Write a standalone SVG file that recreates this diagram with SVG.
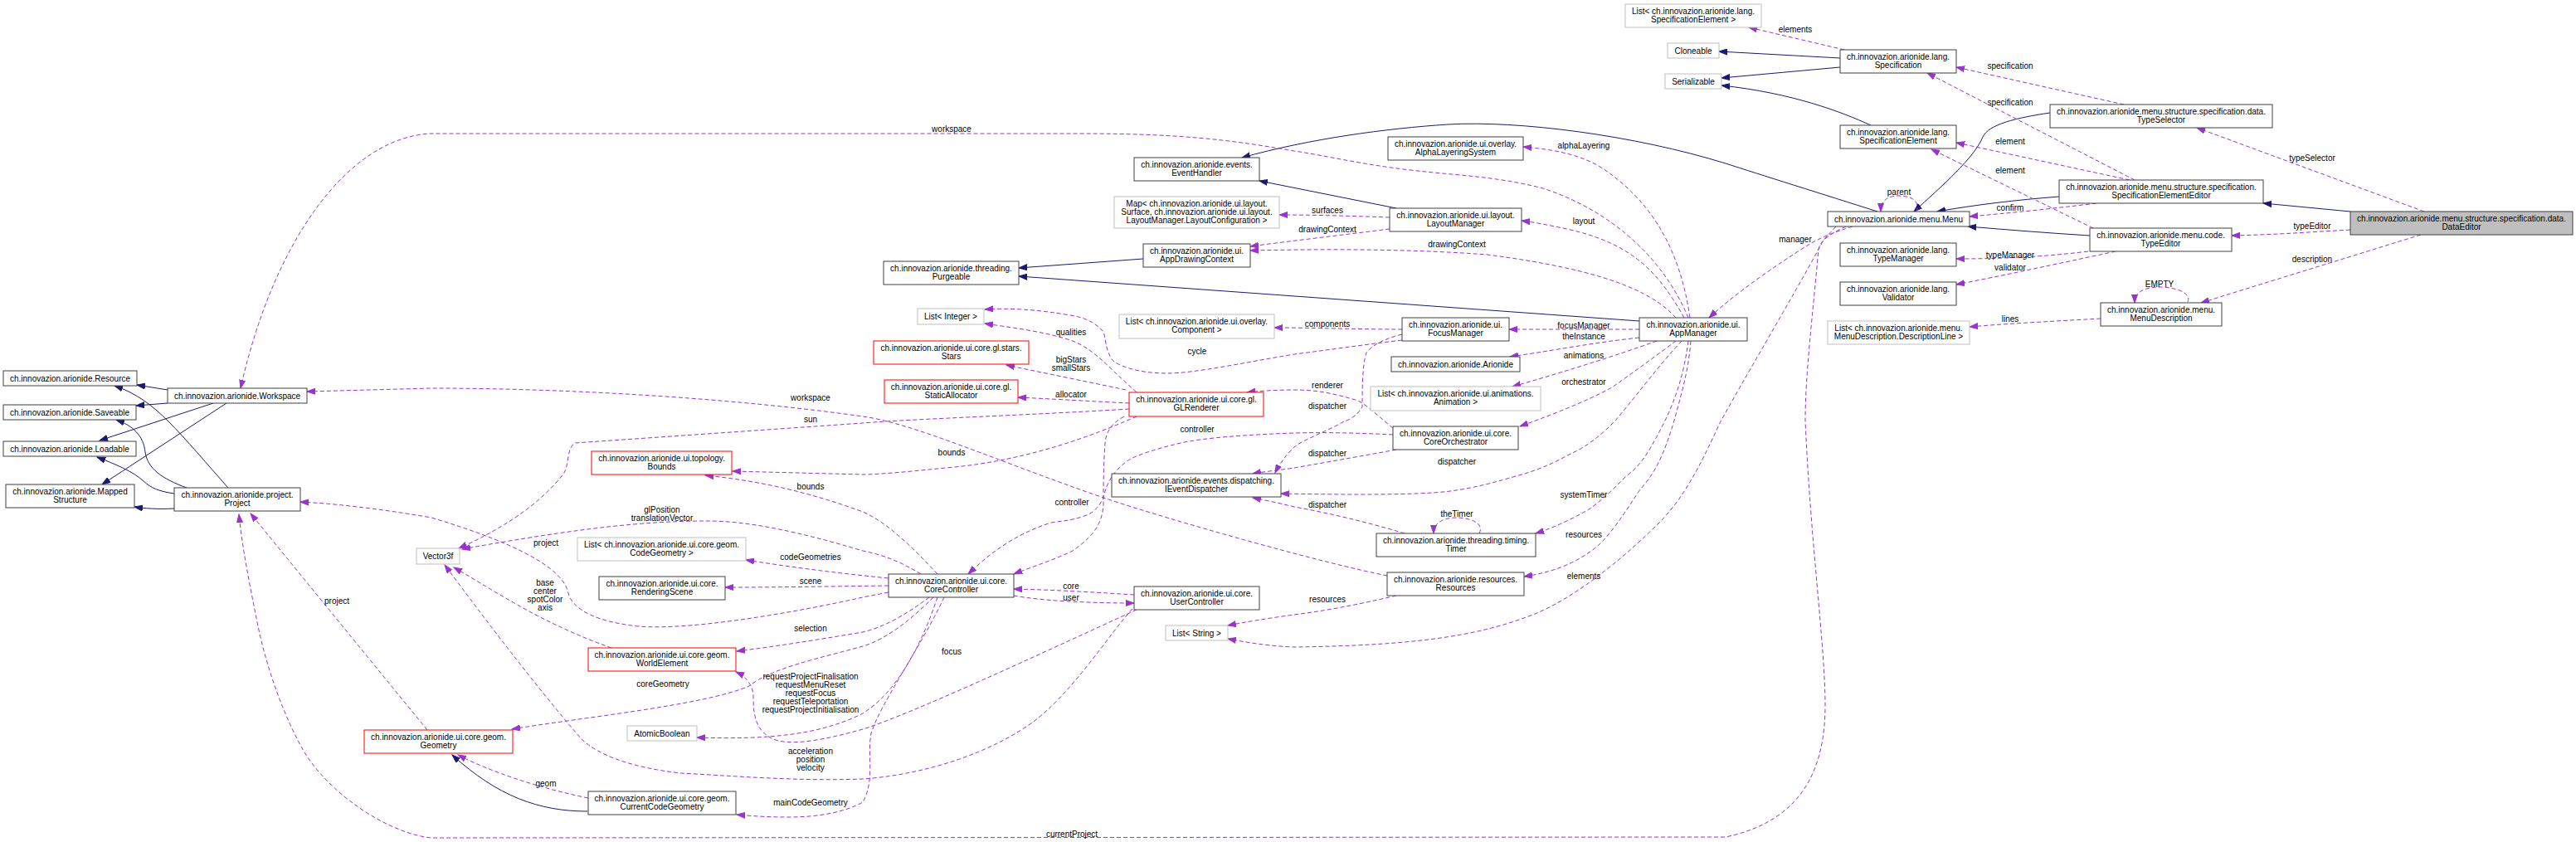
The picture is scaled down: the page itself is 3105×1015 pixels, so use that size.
<svg xmlns="http://www.w3.org/2000/svg" width="3105" height="1015" viewBox="0 0 3105 1015">
<style>
text{font-family:"Liberation Sans",Arial,Helvetica,sans-serif;font-size:10px;fill:#000;text-anchor:middle}
.n rect{fill:#fff;stroke:#404040;stroke-width:1}
.g rect{fill:#fff;stroke:#bfbfbf;stroke-width:1}
.r rect{fill:#fff;stroke:#ff0000;stroke-width:1}
.f rect{fill:#bfbfbf;stroke:#404040;stroke-width:1}
.inh{fill:none;stroke:#191970;stroke-width:1;marker-end:url(#ab)}
.use{fill:none;stroke:#9a32cd;stroke-width:1;stroke-dasharray:5,3;marker-end:url(#ap)}
</style>
<defs>
<marker id="ab" markerWidth="11" markerHeight="8" refX="10" refY="4" orient="auto" markerUnits="userSpaceOnUse"><path d="M0,0.5 L10,4 L0,7.5 z" fill="#191970" stroke="#191970"/></marker>
<marker id="ap" markerWidth="11" markerHeight="8" refX="10" refY="4" orient="auto" markerUnits="userSpaceOnUse"><path d="M0,0.5 L10,4 L0,7.5 z" fill="#9a32cd" stroke="#9a32cd"/></marker>
</defs>
<rect width="3105" height="1015" fill="#fff"/>
<g id="edges">
<path class="inh" d="M202,470 L165,464"/>
<path class="inh" d="M202,486 L164,489"/>
<path class="inh" d="M257,486 L120,531"/>
<path class="inh" d="M273,486 L123,584"/>
<path class="inh" d="M275,588 C250,560 225,530 203,508 C185,490 165,474 138,465"/>
<path class="inh" d="M225,588 C195,577 178,565 175,545 C173,525 160,513 140,506"/>
<path class="inh" d="M210,595 C190,592 182,588 173,580 C160,568 140,560 117,551"/>
<path class="inh" d="M210,613 C190,614 175,613 162,611"/>
<path class="inh" d="M1378,312 L1228,323"/>
<path class="inh" d="M1976,387 L1228,333"/>
<path class="inh" d="M1683,251 L1518,218"/>
<path class="inh" d="M2263,255 C2200,235 2120,210 2080,197 C1970,163 1830,145 1745,150 C1670,155 1580,167 1497,190"/>
<path class="inh" d="M2218,70 L2072,62"/>
<path class="inh" d="M2218,81 L2075,94"/>
<path class="inh" d="M2255,151 C2220,135 2160,112 2075,103"/>
<path class="inh" d="M2471,136 C2430,142 2397,150 2390,165 C2380,190 2340,225 2307,255"/>
<path class="inh" d="M2482,237 C2430,241 2380,247 2335,255"/>
<path class="inh" d="M2519,284 C2470,281 2420,277 2372,273"/>
<path class="inh" d="M2833,255 L2728,245"/>
<path class="inh" d="M708,978 C650,978 600,960 545,910"/>

<path class="use" d="M2922,255 L2648,154"/>
<path class="use" d="M2833,277 C2780,280 2740,283 2690,284"/>
<path class="use" d="M2918,283 L2653,365"/>
<path class="use" d="M2637,364 C2642,352 2620,346 2603,346 C2585,346 2573,352 2573,365"/>
<path class="use" d="M2532,384 C2480,387 2420,390 2374,394"/>
<path class="use" d="M2560,126 L2358,81"/>
<path class="use" d="M2573,217 L2323,88"/>
<path class="use" d="M2567,217 L2358,172"/>
<path class="use" d="M2523,275 L2328,180"/>
<path class="use" d="M2527,245 C2470,252 2420,257 2374,261"/>
<path class="use" d="M2517,303 C2460,310 2410,312 2358,312"/>
<path class="use" d="M2550,303 C2480,318 2410,333 2358,343"/>
<path class="use" d="M2223,60 L2108,33"/>
<path class="use" d="M2310,255 C2315,240 2300,236 2289,236 C2275,236 2267,242 2267,255"/>
<path class="use" d="M2233,273 C2210,280 2193,287 2180,295 C2140,320 2090,355 2060,383"/>
<path class="use" d="M2037,383 C2025,300 1990,240 1927,200 C1900,185 1870,180 1836,177"/>
<path class="use" d="M2030,383 C2000,330 1970,295 1893,277 C1870,272 1850,268 1834,266"/>
<path class="use" d="M2020,383 C1990,350 1930,325 1793,307 C1700,300 1600,300 1507,302"/>
<path class="use" d="M1675,276 C1620,283 1560,290 1507,297"/>
<path class="use" d="M1675,262 C1620,260 1580,259 1542,259"/>
<path class="use" d="M2035,383 C2000,300 1930,250 1860,227 C1800,212 1760,212 1700,205 C1640,198 1600,188 1560,182 C1480,168 1420,161 1300,161 L520,161 C420,165 330,290 290,468"/>
<path class="use" d="M1672,694 C1600,680 1420,630 1330,600 C1200,555 1100,510 1040,502 C900,482 700,468 520,468 L370,472"/>
<path class="use" d="M1361,493 C1250,500 1100,505 1040,510 L693,534 C683,540 686,560 680,570 C650,610 600,640 553,661"/>
<path class="use" d="M1130,692 C1100,660 1070,630 1040,617 C980,595 920,580 850,573"/>
<path class="use" d="M1370,502 C1340,515 1250,555 1140,564 C1100,568 1060,572 1040,572 L883,568"/>
<path class="use" d="M1110,692 C1090,680 1070,670 1040,664 C960,640 900,628 853,628 C780,628 700,636 557,662"/>
<path class="use" d="M1071,714 C1060,716 1050,718 1040,720 C950,740 830,760 770,755 C720,750 690,735 685,715 C680,690 640,660 520,624 C450,612 400,607 362,605"/>
<path class="use" d="M1071,697 C1000,690 950,683 899,675"/>
<path class="use" d="M1071,706 C1000,707 930,708 874,708"/>
<path class="use" d="M737,781 C700,768 660,750 620,727 C590,710 570,697 547,684"/>
<path class="use" d="M1120,720 C1100,735 1070,755 1040,762 C980,772 930,780 888,785"/>
<path class="use" d="M1125,720 C1100,745 1070,770 1040,779 C990,793 930,805 903,827 C850,850 700,865 617,879"/>
<path class="use" d="M1130,720 C1110,780 1080,835 1040,860 C990,885 930,892 840,889"/>
<path class="use" d="M1370,735 C1250,790 1100,860 1040,879 C990,893 950,900 930,890 C910,880 908,860 908,840 C908,825 898,815 887,810"/>
<path class="use" d="M1365,734 C1340,760 1290,840 1240,874 C1180,915 1100,935 1040,939 C960,942 880,935 820,932 C760,925 720,910 700,890 C640,820 580,740 536,681"/>
<path class="use" d="M1138,720 C1110,780 1060,850 1050,884 C1045,910 1055,940 1040,967 C1020,978 990,985 950,985 C920,985 900,983 888,982"/>
<path class="use" d="M709,962 C650,950 590,930 552,910"/>
<path class="use" d="M515,880 L302,619"/>
<path class="use" d="M2225,273 C2210,280 2195,288 2192,300 C2185,380 2176,450 2176,507 C2182,650 2200,780 2200,850 C2200,930 2170,990 2080,1009 L520,1010 C470,1005 400,960 367,907 C340,860 320,800 310,750 C300,700 292,660 288,620"/>
<path class="use" d="M2213,273 C2205,282 2198,288 2195,295 C2160,360 2100,460 2073,510 C2050,560 2030,600 2000,630 C1960,670 1900,720 1850,740 C1780,768 1700,778 1560,780 C1530,779 1500,774 1480,770"/>
<path class="use" d="M1976,397 L1819,397"/>
<path class="use" d="M1976,407 C1920,413 1870,423 1820,430"/>
<path class="use" d="M1997,411 C1950,428 1880,450 1823,466"/>
<path class="use" d="M2020,411 C1995,430 1960,455 1943,467 C1910,485 1870,500 1832,514"/>
<path class="use" d="M2027,411 C2000,440 1970,480 1947,507 C1930,525 1910,540 1893,547 C1870,560 1850,568 1827,574 C1790,585 1760,592 1727,594 C1680,597 1600,596 1544,595"/>
<path class="use" d="M2035,411 C2030,450 2020,480 2007,507 C1990,540 1980,560 1960,574 C1940,595 1920,612 1910,617 C1890,628 1870,637 1851,643"/>
<path class="use" d="M2038,411 C2035,450 2025,480 2018,507 C2005,550 1995,570 1977,590 C1960,615 1945,640 1927,657 C1900,680 1870,690 1837,695"/>
<path class="use" d="M1690,397 C1640,397 1580,395 1536,395"/>
<path class="use" d="M1690,410 C1640,416 1600,422 1560,427 C1500,437 1440,450 1407,450 C1370,450 1345,440 1340,433 C1332,420 1333,408 1330,400 C1320,388 1305,382 1290,380 C1250,373 1215,371 1187,373"/>
<path class="use" d="M1370,473 C1350,455 1335,440 1327,433 C1315,423 1305,415 1290,410 C1260,400 1220,395 1187,390"/>
<path class="use" d="M1357,470 C1310,460 1260,450 1213,440"/>
<path class="use" d="M1361,486 C1320,484 1270,481 1227,479"/>
<path class="use" d="M1679,516 C1665,505 1650,490 1637,483 C1610,475 1590,470 1560,470 C1540,470 1520,471 1503,473"/>
<path class="use" d="M1690,403 C1670,408 1655,415 1647,425 C1642,440 1642,470 1642,490 C1638,500 1625,507 1620,508 C1600,520 1570,530 1560,539 C1550,548 1542,560 1537,570"/>
<path class="use" d="M1683,542 C1640,550 1600,557 1560,564 C1540,567 1520,569 1510,571"/>
<path class="use" d="M1693,643 C1650,630 1600,618 1560,611 C1540,606 1525,603 1510,600"/>
<path class="use" d="M1783,643 C1790,630 1770,624 1756,624 C1740,624 1728,630 1728,643"/>
<path class="use" d="M1683,718 C1640,728 1600,736 1560,741 C1530,745 1500,750 1480,754"/>
<path class="use" d="M1679,524 C1640,522 1600,521 1560,522 C1500,524 1450,528 1423,534 C1390,542 1365,550 1357,557 C1340,570 1333,585 1330,600 C1325,612 1315,620 1307,622 C1290,628 1280,628 1267,630 C1220,645 1190,670 1167,692"/>
<path class="use" d="M1355,502 C1340,510 1333,520 1332,535 C1330,560 1330,590 1330,610 C1328,630 1320,645 1293,664 C1270,675 1245,683 1222,692"/>
<path class="use" d="M1367,717 C1320,714 1270,711 1222,710"/>
<path class="use" d="M1222,718 C1260,725 1320,727 1367,727"/>

<text x="2787" y="193.5">typeSelector</text>
<text x="2787" y="275.5">typeEditor</text>
<text x="2787" y="315.5">description</text>
<text x="2603" y="345.5">EMPTY</text>
<text x="2423" y="387.5">lines</text>
<text x="2423" y="82.5">specification</text>
<text x="2423" y="126.5">specification</text>
<text x="2423" y="173.5">element</text>
<text x="2423" y="208.5">element</text>
<text x="2423" y="253.5">confirm</text>
<text x="2423" y="310.5">typeManager</text>
<text x="2423" y="325.5">validator</text>
<text x="2164" y="38.5">elements</text>
<text x="2289" y="234.5">parent</text>
<text x="2164" y="291.5">manager</text>
<text x="1909" y="178.5">alphaLayering</text>
<text x="1909" y="269.5">layout</text>
<text x="1756" y="297.5">drawingContext</text>
<text x="1600" y="279.5">drawingContext</text>
<text x="1600" y="256.5">surfaces</text>
<text x="1147" y="158.5">workspace</text>
<text x="977" y="482.5">workspace</text>
<text x="977" y="508.5">sun</text>
<text x="1600" y="393.5">components</text>
<text x="1443" y="426.5">cycle</text>
<text x="1291" y="403.5">qualities</text>
<text x="1291" y="436.5">bigStars</text>
<text x="1291" y="446.5">smallStars</text>
<text x="1291" y="478.5">allocator</text>
<text x="1909" y="395.5">focusManager</text>
<text x="1909" y="408.5">theInstance</text>
<text x="1909" y="431.5">animations</text>
<text x="1909" y="464">orchestrator</text>
<text x="1600" y="467.5">renderer</text>
<text x="1600" y="492.5">dispatcher</text>
<text x="1443" y="520.5">controller</text>
<text x="1600" y="549.5">dispatcher</text>
<text x="1756" y="559.5">dispatcher</text>
<text x="1909" y="599.5">systemTimer</text>
<text x="1600" y="611.5">dispatcher</text>
<text x="1292" y="608.5">controller</text>
<text x="1756" y="622.5">theTimer</text>
<text x="1909" y="647.5">resources</text>
<text x="1909" y="697.5">elements</text>
<text x="1600" y="726">resources</text>
<text x="1147" y="548.5">bounds</text>
<text x="977" y="589.5">bounds</text>
<text x="798" y="617.5">glPosition</text>
<text x="798" y="627.5">translationVector</text>
<text x="658" y="657.5">project</text>
<text x="977" y="674.5">codeGeometries</text>
<text x="977" y="703.5">scene</text>
<text x="657" y="705.5">base</text>
<text x="657" y="715.5">center</text>
<text x="657" y="725.5">spotColor</text>
<text x="657" y="735.5">axis</text>
<text x="1291" y="709.5">core</text>
<text x="1291" y="723.5">user</text>
<text x="977" y="760.5">selection</text>
<text x="1147" y="788.5">focus</text>
<text x="799" y="827.5">coreGeometry</text>
<text x="977" y="818.5">requestProjectFinalisation</text>
<text x="977" y="828.5">requestMenuReset</text>
<text x="977" y="838.5">requestFocus</text>
<text x="977" y="848.5">requestTeleportation</text>
<text x="977" y="858.5">requestProjectInitialisation</text>
<text x="977" y="908.5">acceleration</text>
<text x="977" y="918.5">position</text>
<text x="977" y="928.5">velocity</text>
<text x="406" y="727.5">project</text>
<text x="658" y="947.5">geom</text>
<text x="977" y="970.5">mainCodeGeometry</text>
<text x="1292" y="1008.5">currentProject</text>
</g>

<g id="n_resource" class="n"><rect x="4" y="447" width="161" height="18"/><text x="84.5" y="459.5">ch.innovazion.arionide.Resource</text></g>
<g id="n_saveable" class="n"><rect x="4" y="488" width="160" height="18"/><text x="84" y="500.5">ch.innovazion.arionide.Saveable</text></g>
<g id="n_loadable" class="n"><rect x="4" y="532" width="160" height="18"/><text x="84" y="544.5">ch.innovazion.arionide.Loadable</text></g>
<g id="n_mapped" class="n"><rect x="7" y="584" width="155" height="28"/><text x="84.5" y="596">ch.innovazion.arionide.Mapped</text><text x="84.5" y="606">Structure</text></g>
<g id="n_workspace" class="n"><rect x="202" y="468" width="168" height="18"/><text x="286" y="480.5">ch.innovazion.arionide.Workspace</text></g>
<g id="n_project" class="n"><rect x="210" y="588" width="152" height="28"/><text x="286" y="600">ch.innovazion.arionide.project.</text><text x="286" y="610">Project</text></g>
<g id="n_vector3f" class="g"><rect x="502" y="661" width="52" height="19"/><text x="528" y="674">Vector3f</text></g>
<g id="n_geometry" class="r"><rect x="439" y="880" width="179" height="28"/><text x="528.5" y="892">ch.innovazion.arionide.ui.core.geom.</text><text x="528.5" y="902">Geometry</text></g>
<g id="n_bounds" class="r"><rect x="713" y="544" width="169" height="28"/><text x="797.5" y="556">ch.innovazion.arionide.ui.topology.</text><text x="797.5" y="566">Bounds</text></g>
<g id="n_listcg" class="g"><rect x="696" y="648" width="203" height="28"/><text x="797.5" y="660">List&lt; ch.innovazion.arionide.ui.core.geom.</text><text x="797.5" y="670">CodeGeometry &gt;</text></g>
<g id="n_renderingscene" class="n"><rect x="722" y="695" width="152" height="28"/><text x="798" y="707">ch.innovazion.arionide.ui.core.</text><text x="798" y="717">RenderingScene</text></g>
<g id="n_worldelement" class="r"><rect x="709" y="781" width="178" height="28"/><text x="798" y="793">ch.innovazion.arionide.ui.core.geom.</text><text x="798" y="803">WorldElement</text></g>
<g id="n_atomicboolean" class="g"><rect x="756" y="875" width="84" height="18"/><text x="798" y="887.5">AtomicBoolean</text></g>
<g id="n_ccg" class="n"><rect x="709" y="954" width="178" height="28"/><text x="798" y="966">ch.innovazion.arionide.ui.core.geom.</text><text x="798" y="976">CurrentCodeGeometry</text></g>
<g id="n_corecontroller" class="n"><rect x="1071" y="692" width="151" height="28"/><text x="1146.5" y="704">ch.innovazion.arionide.ui.core.</text><text x="1146.5" y="714">CoreController</text></g>
<g id="n_usercontroller" class="n"><rect x="1367" y="707" width="151" height="28"/><text x="1442.5" y="719">ch.innovazion.arionide.ui.core.</text><text x="1442.5" y="729">UserController</text></g>
<g id="n_liststring" class="g"><rect x="1405" y="754" width="75" height="18"/><text x="1442.5" y="766.5">List&lt; String &gt;</text></g>
<g id="n_ied" class="n"><rect x="1340" y="571" width="204" height="28"/><text x="1442" y="583">ch.innovazion.arionide.events.dispatching.</text><text x="1442" y="593">IEventDispatcher</text></g>
<g id="n_coreorchestrator" class="n"><rect x="1679" y="514" width="151" height="28"/><text x="1754.5" y="526">ch.innovazion.arionide.ui.core.</text><text x="1754.5" y="536">CoreOrchestrator</text></g>
<g id="n_timer" class="n"><rect x="1659" y="643" width="192" height="28"/><text x="1755" y="655">ch.innovazion.arionide.threading.timing.</text><text x="1755" y="665">Timer</text></g>
<g id="n_resources" class="n"><rect x="1672" y="690" width="165" height="28"/><text x="1754.5" y="702">ch.innovazion.arionide.resources.</text><text x="1754.5" y="712">Resources</text></g>
<g id="n_eventhandler" class="n"><rect x="1367" y="190" width="151" height="28"/><text x="1442.5" y="202">ch.innovazion.arionide.events.</text><text x="1442.5" y="212">EventHandler</text></g>
<g id="n_map" class="g"><rect x="1343" y="237" width="199" height="38"/><text x="1442.5" y="249">Map&lt; ch.innovazion.arionide.ui.layout.</text><text x="1442.5" y="259">Surface, ch.innovazion.arionide.ui.layout.</text><text x="1442.5" y="269">LayoutManager.LayoutConfiguration &gt;</text></g>
<g id="n_adc" class="n"><rect x="1378" y="294" width="129" height="28"/><text x="1442.5" y="306">ch.innovazion.arionide.ui.</text><text x="1442.5" y="316">AppDrawingContext</text></g>
<g id="n_purgeable" class="n"><rect x="1065" y="315" width="163" height="28"/><text x="1146.5" y="327">ch.innovazion.arionide.threading.</text><text x="1146.5" y="337">Purgeable</text></g>
<g id="n_listinteger" class="g"><rect x="1106" y="372" width="80" height="19"/><text x="1146" y="385">List&lt; Integer &gt;</text></g>
<g id="n_stars" class="r"><rect x="1053" y="411" width="187" height="28"/><text x="1146.5" y="423">ch.innovazion.arionide.ui.core.gl.stars.</text><text x="1146.5" y="433">Stars</text></g>
<g id="n_staticallocator" class="r"><rect x="1066" y="458" width="161" height="28"/><text x="1146.5" y="470">ch.innovazion.arionide.ui.core.gl.</text><text x="1146.5" y="480">StaticAllocator</text></g>
<g id="n_glrenderer" class="r"><rect x="1361" y="473" width="162" height="29"/><text x="1442" y="485">ch.innovazion.arionide.ui.core.gl.</text><text x="1442" y="495">GLRenderer</text></g>
<g id="n_listcomponent" class="g"><rect x="1349" y="379" width="187" height="29"/><text x="1442.5" y="391">List&lt; ch.innovazion.arionide.ui.overlay.</text><text x="1442.5" y="401">Component &gt;</text></g>
<g id="n_listse" class="g"><rect x="1959" y="5" width="164" height="28"/><text x="2041" y="17">List&lt; ch.innovazion.arionide.lang.</text><text x="2041" y="27">SpecificationElement &gt;</text></g>
<g id="n_cloneable" class="g"><rect x="2010" y="52" width="62" height="18"/><text x="2041" y="64.5">Cloneable</text></g>
<g id="n_serializable" class="g"><rect x="2007" y="89" width="68" height="18"/><text x="2041" y="101.5">Serializable</text></g>
<g id="n_als" class="n"><rect x="1673" y="165" width="163" height="28"/><text x="1754.5" y="177">ch.innovazion.arionide.ui.overlay.</text><text x="1754.5" y="187">AlphaLayeringSystem</text></g>
<g id="n_layoutmanager" class="n"><rect x="1675" y="251" width="159" height="28"/><text x="1754.5" y="263">ch.innovazion.arionide.ui.layout.</text><text x="1754.5" y="273">LayoutManager</text></g>
<g id="n_focusmanager" class="n"><rect x="1690" y="383" width="129" height="28"/><text x="1754.5" y="395">ch.innovazion.arionide.ui.</text><text x="1754.5" y="405">FocusManager</text></g>
<g id="n_arionide" class="n"><rect x="1677" y="430" width="155" height="18"/><text x="1754.5" y="442.5">ch.innovazion.arionide.Arionide</text></g>
<g id="n_listanimation" class="g"><rect x="1652" y="466" width="205" height="29"/><text x="1754.5" y="478">List&lt; ch.innovazion.arionide.ui.animations.</text><text x="1754.5" y="488">Animation &gt;</text></g>
<g id="n_appmanager" class="n"><rect x="1976" y="383" width="130" height="28"/><text x="2041" y="395">ch.innovazion.arionide.ui.</text><text x="2041" y="405">AppManager</text></g>
<g id="n_specification" class="n"><rect x="2218" y="60" width="140" height="28"/><text x="2288" y="72">ch.innovazion.arionide.lang.</text><text x="2288" y="82">Specification</text></g>
<g id="n_specelement" class="n"><rect x="2218" y="151" width="140" height="28"/><text x="2288" y="163">ch.innovazion.arionide.lang.</text><text x="2288" y="173">SpecificationElement</text></g>
<g id="n_typeselector" class="n"><rect x="2471" y="126" width="268" height="28"/><text x="2605" y="138">ch.innovazion.arionide.menu.structure.specification.data.</text><text x="2605" y="148">TypeSelector</text></g>
<g id="n_menu" class="n"><rect x="2203" y="255" width="171" height="18"/><text x="2288.5" y="267.5">ch.innovazion.arionide.menu.Menu</text></g>
<g id="n_see" class="n"><rect x="2482" y="217" width="246" height="28"/><text x="2605" y="229">ch.innovazion.arionide.menu.structure.specification.</text><text x="2605" y="239">SpecificationElementEditor</text></g>
<g id="n_typeeditor" class="n"><rect x="2519" y="275" width="171" height="28"/><text x="2604.5" y="287">ch.innovazion.arionide.menu.code.</text><text x="2604.5" y="297">TypeEditor</text></g>
<g id="n_typemanager" class="n"><rect x="2218" y="293" width="140" height="28"/><text x="2288" y="305">ch.innovazion.arionide.lang.</text><text x="2288" y="315">TypeManager</text></g>
<g id="n_validator" class="n"><rect x="2218" y="340" width="140" height="28"/><text x="2288" y="352">ch.innovazion.arionide.lang.</text><text x="2288" y="362">Validator</text></g>
<g id="n_menudescription" class="n"><rect x="2532" y="365" width="146" height="28"/><text x="2605" y="377">ch.innovazion.arionide.menu.</text><text x="2605" y="387">MenuDescription</text></g>
<g id="n_listdl" class="g"><rect x="2203" y="387" width="171" height="28"/><text x="2288.5" y="399">List&lt; ch.innovazion.arionide.menu.</text><text x="2288.5" y="409">MenuDescription.DescriptionLine &gt;</text></g>
<g id="n_dataeditor" class="f"><rect x="2833" y="255" width="268" height="28"/><text x="2967" y="267">ch.innovazion.arionide.menu.structure.specification.data.</text><text x="2967" y="277">DataEditor</text></g>
</svg>
